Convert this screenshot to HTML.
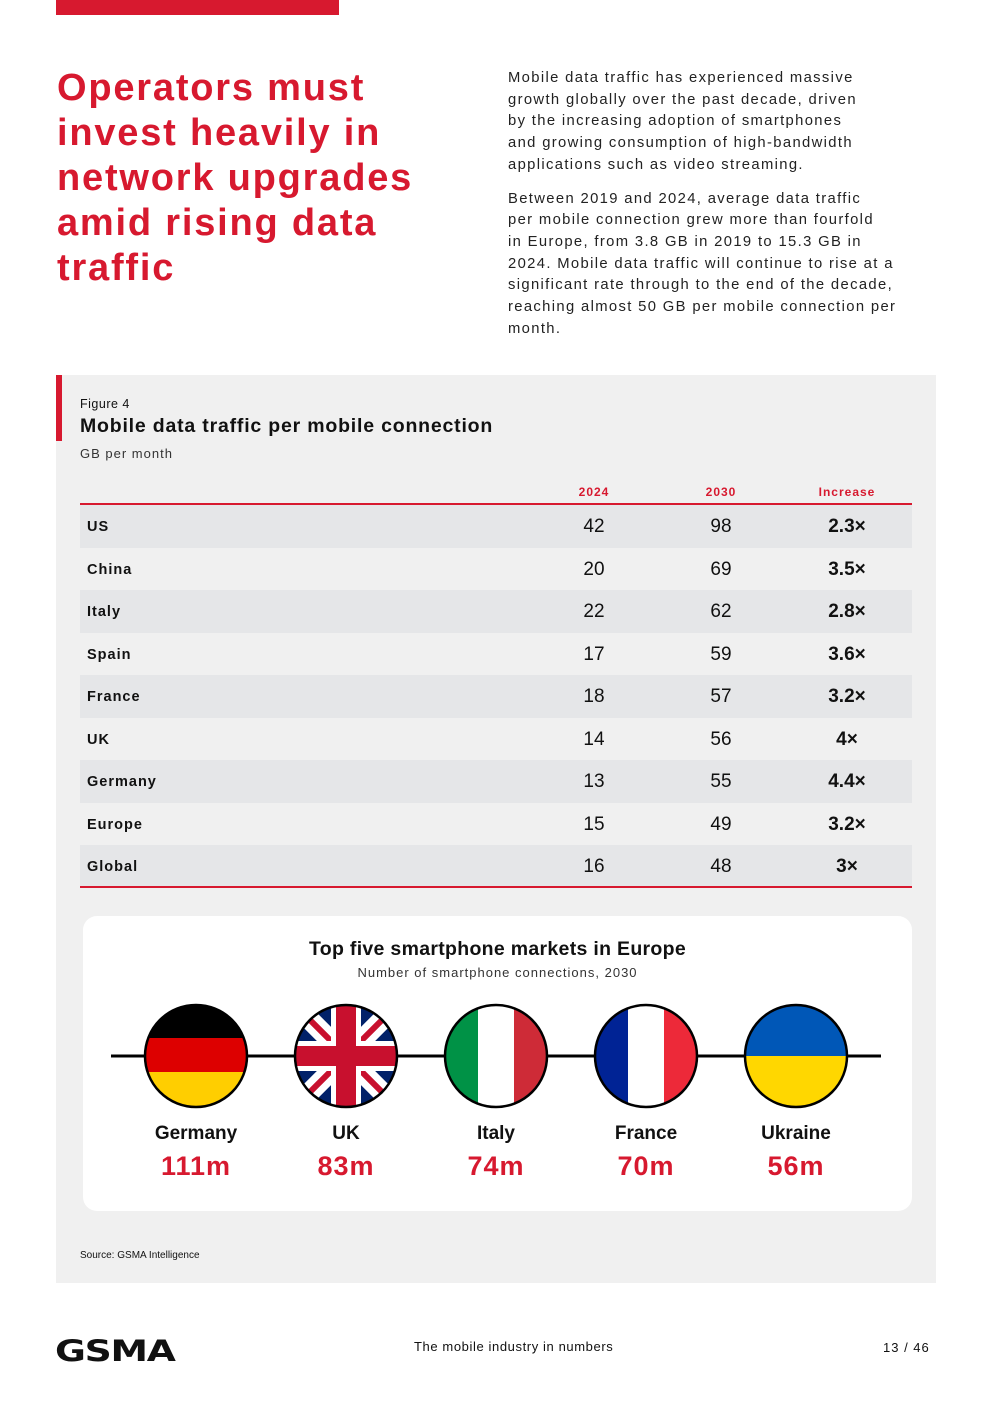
<!DOCTYPE html>
<html><head><meta charset="utf-8"><style>
*{margin:0;padding:0;box-sizing:border-box}
body{width:992px;height:1403px;background:#fff;font-family:"Liberation Sans",sans-serif;position:relative;overflow:hidden;color:#111}
.abs{position:absolute}
h1{position:absolute;left:57px;top:66px;color:#d7192f;font-size:38px;line-height:45px;font-weight:bold;letter-spacing:1.8px;white-space:nowrap}
.body p{font-size:14.8px;line-height:21.7px;letter-spacing:1.35px;color:#222;margin-bottom:12px;white-space:nowrap}
.row{position:absolute;left:80px;width:832px;height:42.5px;font-size:15px}
.row .lab{position:absolute;left:7px;top:14px;font-weight:bold;letter-spacing:1px;font-size:14.5px}
.row .v{position:absolute;top:11px;width:80px;text-align:center;font-size:19px}
.row .inc{font-weight:bold}
.hd{position:absolute;top:485px;width:80px;text-align:center;color:#d7192f;font-size:12px;font-weight:bold;letter-spacing:1px}
.fl{position:absolute;top:1123px;width:130px;text-align:center;font-weight:bold;font-size:19px}
.fv{position:absolute;top:1151px;width:130px;text-align:center;font-weight:bold;font-size:27px;color:#d7192f;letter-spacing:1px}
</style></head><body>
<div class="abs" style="left:56px;top:0;width:283px;height:15px;background:#d7192f"></div>
<h1>Operators must<br>invest heavily in<br>network upgrades<br>amid rising data<br>traffic</h1>
<div class="abs body" style="left:508px;top:68px;width:425px">
<p>Mobile data traffic has experienced massive<br>growth globally over the past decade, driven<br>by the increasing adoption of smartphones<br>and growing consumption of high-bandwidth<br>applications such as video streaming.</p>
<p>Between 2019 and 2024, average data traffic<br>per mobile connection grew more than fourfold<br>in Europe, from 3.8 GB in 2019 to 15.3 GB in<br>2024. Mobile data traffic will continue to rise at a<br>significant rate through to the end of the decade,<br>reaching almost 50 GB per mobile connection per<br>month.</p>
</div>
<div class="abs" style="left:56px;top:375px;width:880px;height:908px;background:#f0f0f0"></div>
<div class="abs" style="left:56px;top:375px;width:6px;height:66px;background:#d7192f"></div>
<div class="abs" style="left:80px;top:397px;font-size:12.5px;letter-spacing:0.5px">Figure 4</div>
<div class="abs" style="left:80px;top:415px;font-size:19.5px;font-weight:bold;letter-spacing:0.8px">Mobile data traffic per mobile connection</div>
<div class="abs" style="left:80px;top:446px;font-size:13px;letter-spacing:1px;color:#333">GB per month</div>
<div class="hd" style="left:554px">2024</div>
<div class="hd" style="left:681px">2030</div>
<div class="hd" style="left:807px">Increase</div>
<div class="abs" style="left:80px;top:503px;width:832px;height:2.5px;background:#d7192f"></div>
<div id="tbl"></div>
<div class="abs" style="left:80px;top:886px;width:832px;height:2px;background:#d7192f"></div>
<div class="abs" style="left:83px;top:916px;width:829px;height:295px;background:#fff;border-radius:14px"></div>
<div class="abs" style="left:83px;top:938px;width:829px;text-align:center;font-weight:bold;font-size:19.5px;letter-spacing:0.3px">Top five smartphone markets in Europe</div>
<div class="abs" style="left:83px;top:965px;width:829px;text-align:center;font-size:13px;letter-spacing:1px;color:#333">Number of smartphone connections, 2030</div>
<svg class="abs" style="left:0;top:990px" width="992" height="130">
<defs>
<clipPath id="c0"><circle cx="196" cy="66" r="51"/></clipPath>
<clipPath id="c1"><circle cx="346" cy="66" r="51"/></clipPath>
<clipPath id="c2"><circle cx="496" cy="66" r="51"/></clipPath>
<clipPath id="c3"><circle cx="646" cy="66" r="51"/></clipPath>
<clipPath id="c4"><circle cx="796" cy="66" r="51"/></clipPath>
</defs>
<line x1="111" y1="66" x2="881" y2="66" stroke="#000" stroke-width="3"/>
<g clip-path="url(#c0)"><rect x="140" y="10" width="112" height="38" fill="#000"/><rect x="140" y="48" width="112" height="34" fill="#dd0000"/><rect x="140" y="82" width="112" height="40" fill="#ffce00"/></g>
<g clip-path="url(#c1)"><rect x="290" y="10" width="112" height="112" fill="#012169"/>
<path d="M290 10 L402 122 M402 10 L290 122" stroke="#fff" stroke-width="20"/><path d="M290 10 L402 122 M402 10 L290 122" stroke="#c8102e" stroke-width="6"/>
<rect x="290" y="51" width="112" height="30" fill="#fff"/><rect x="331" y="10" width="30" height="112" fill="#fff"/>
<rect x="290" y="56" width="112" height="20" fill="#c8102e"/><rect x="336" y="10" width="20" height="112" fill="#c8102e"/></g>
<g clip-path="url(#c2)"><rect x="440" y="10" width="38" height="112" fill="#009246"/><rect x="478" y="10" width="36" height="112" fill="#fff"/><rect x="514" y="10" width="40" height="112" fill="#ce2b37"/></g>
<g clip-path="url(#c3)"><rect x="590" y="10" width="38" height="112" fill="#002395"/><rect x="628" y="10" width="36" height="112" fill="#fff"/><rect x="664" y="10" width="40" height="112" fill="#ed2939"/></g>
<g clip-path="url(#c4)"><rect x="740" y="10" width="112" height="56" fill="#0057b7"/><rect x="740" y="66" width="112" height="56" fill="#ffd700"/></g>
<g fill="none" stroke="#000" stroke-width="2.5"><circle cx="196" cy="66" r="51"/><circle cx="346" cy="66" r="51"/><circle cx="496" cy="66" r="51"/><circle cx="646" cy="66" r="51"/><circle cx="796" cy="66" r="51"/></g>
</svg>
<div id="mk"></div>
<div class="abs" style="left:80px;top:1250px;font-size:10px">Source: GSMA Intelligence</div>
<div class="abs" style="left:55px;top:1334px;font-size:29px;font-weight:900;letter-spacing:-1px;transform:scaleX(1.3);transform-origin:left;font-family:'DejaVu Sans',sans-serif">GSMA</div>
<div class="abs" style="left:414px;top:1339px;font-size:13px;letter-spacing:0.6px">The mobile industry in numbers</div>
<div class="abs" style="left:883px;top:1340px;font-size:13px;letter-spacing:1px">13 / 46</div>
<script>
const countries=["US","China","Italy","Spain","France","UK","Germany","Europe","Global"];
const v2024=[42,20,22,17,18,14,13,15,16];
const v2030=[98,69,62,59,57,56,55,49,48];
const increase=["2.3×","3.5×","2.8×","3.6×","3.2×","4×","4.4×","3.2×","3×"];
const markets=["Germany","UK","Italy","France","Ukraine"];
const marketValues=["111m","83m","74m","70m","56m"];
const tbl=document.getElementById('tbl');
countries.forEach((c,i)=>{
  const r=document.createElement('div');
  r.className='row';
  
  
  r.style.top=(505+i*42.5)+'px';
  if(i%2===0) r.style.background='#e5e6e8';
  r.innerHTML='<div class="lab">'+c+'</div><div class="v" style="left:474px">'+v2024[i]+'</div><div class="v" style="left:601px">'+v2030[i]+'</div><div class="v inc" style="left:727px">'+increase[i]+'</div>';
  tbl.appendChild(r);
});
const mk=document.getElementById('mk');
markets.forEach((m,i)=>{
  const cx=196+i*150;
  const a=document.createElement('div');
  a.className='fl';
  
  
  a.style.left=(cx-65)+'px';a.textContent=m;mk.appendChild(a);
  const b=document.createElement('div');
  b.className='fv';
  
  
  b.style.left=(cx-65)+'px';b.textContent=marketValues[i];mk.appendChild(b);
});
</script>
</body></html>
